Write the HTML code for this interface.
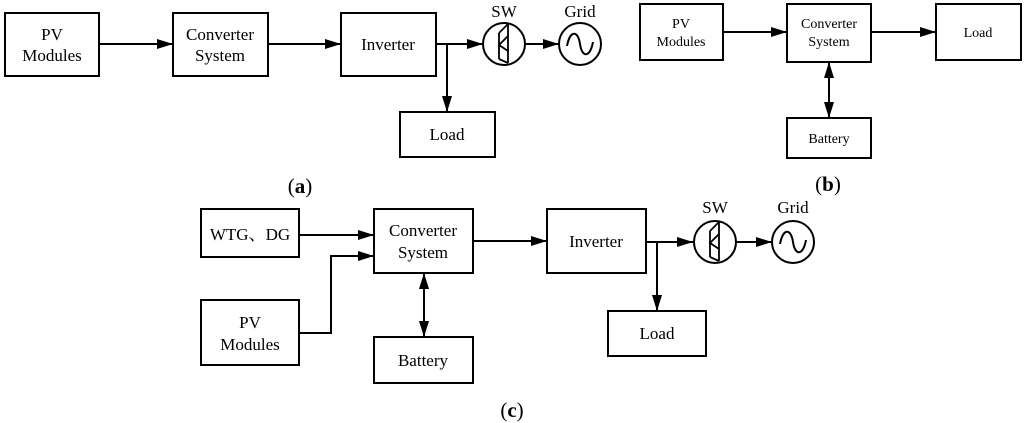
<!DOCTYPE html>
<html><head><meta charset="utf-8"><style>
html,body{margin:0;padding:0;background:#fff;}
svg{display:block;}
text{font-family:"Liberation Serif","Noto Serif CJK SC",serif;fill:#000;}
</style></head><body>
<svg width="1024" height="423" viewBox="0 0 1024 423" xmlns="http://www.w3.org/2000/svg">
<defs>
<marker id="ah" markerWidth="16" markerHeight="10" refX="16" refY="5" orient="auto" markerUnits="userSpaceOnUse">
<path d="M0,0 L16,5 L0,10 z" fill="#000"/></marker>
<marker id="as" markerWidth="16" markerHeight="10" refX="0" refY="5" orient="auto" markerUnits="userSpaceOnUse">
<path d="M16,0 L0,5 L16,10 z" fill="#000"/></marker>
</defs>
<g fill="none" stroke="#000" stroke-width="2">
<!-- (a) -->
<rect x="5" y="13" width="94" height="63"/>
<rect x="173" y="13" width="95" height="63"/>
<rect x="341" y="13" width="95" height="63"/>
<rect x="400" y="112" width="95" height="45"/>
<line x1="99" y1="44" x2="173" y2="44" marker-end="url(#ah)"/>
<line x1="268" y1="44" x2="341" y2="44" marker-end="url(#ah)"/>
<line x1="436" y1="44" x2="483" y2="44" marker-end="url(#ah)"/>
<line x1="447" y1="44" x2="447" y2="112" marker-end="url(#ah)"/>
<circle cx="504" cy="44" r="21"/>
<line x1="525" y1="44" x2="559" y2="44" marker-end="url(#ah)"/>
<circle cx="580" cy="44" r="21"/>
<path d="M567,46 C570,30 578,30 580,44 C582,58 590,58 593,42"/>
<path d="M508,24 L508,63 M499,33 L499,59 M499,33 L508,24 M508,36 L499,45 L508,51 M499,59 L508,63" stroke-width="1.8"/>
<!-- (b) -->
<rect x="640" y="4" width="83" height="56"/>
<rect x="787" y="4" width="84" height="58"/>
<rect x="936" y="4" width="85" height="56"/>
<rect x="787" y="118" width="84" height="40"/>
<line x1="723" y1="32" x2="787" y2="32" marker-end="url(#ah)"/>
<line x1="871" y1="32" x2="936" y2="32" marker-end="url(#ah)"/>
<line x1="829" y1="62" x2="829" y2="118" marker-start="url(#as)" marker-end="url(#ah)"/>
<!-- (c) -->
<rect x="201" y="209" width="98" height="48"/>
<rect x="201" y="300" width="98" height="65"/>
<rect x="374" y="209" width="99" height="64"/>
<rect x="547" y="209" width="99" height="64"/>
<rect x="374" y="337" width="99" height="46"/>
<rect x="608" y="311" width="98" height="45"/>
<line x1="299" y1="235" x2="374" y2="235" marker-end="url(#ah)"/>
<polyline points="299,333 331,333 331,256 374,256" marker-end="url(#ah)"/>
<line x1="473" y1="241" x2="547" y2="241" marker-end="url(#ah)"/>
<line x1="424" y1="273" x2="424" y2="337" marker-start="url(#as)" marker-end="url(#ah)"/>
<line x1="646" y1="242" x2="693" y2="242" marker-end="url(#ah)"/>
<line x1="657" y1="242" x2="657" y2="311" marker-end="url(#ah)"/>
<circle cx="715" cy="242" r="21"/>
<line x1="736" y1="242" x2="772" y2="242" marker-end="url(#ah)"/>
<circle cx="793" cy="242" r="21"/>
<path d="M780,244 C783,228 791,228 793,242 C795,256 803,256 806,240"/>
<path d="M719,222 L719,261 M710,231 L710,257 M710,231 L719,222 M719,234 L710,243 L719,249 M710,257 L719,261" stroke-width="1.8"/>
</g>
<g font-size="17" text-anchor="middle">
<text x="52" y="40">PV</text><text x="52" y="61">Modules</text>
<text x="220" y="40">Converter</text><text x="220" y="61">System</text>
<text x="388" y="50">Inverter</text>
<text x="447" y="140">Load</text>
<text x="504" y="17">SW</text><text x="580" y="17">Grid</text>
<text x="300" y="193" font-size="21"><tspan>(</tspan><tspan font-weight="bold">a</tspan><tspan>)</tspan></text>
</g>
<g font-size="14" text-anchor="middle">
<text x="681" y="28">PV</text><text x="681" y="46">Modules</text>
<text x="829" y="28">Converter</text><text x="829" y="46">System</text>
<text x="978" y="37">Load</text>
<text x="829" y="143">Battery</text>
</g>
<text x="828" y="191" font-size="21" text-anchor="middle"><tspan>(</tspan><tspan font-weight="bold">b</tspan><tspan>)</tspan></text>
<g font-size="17" text-anchor="middle">
<text x="250" y="240">WTG、DG</text>
<text x="250" y="328">PV</text><text x="250" y="350">Modules</text>
<text x="423" y="236">Converter</text><text x="423" y="258">System</text>
<text x="596" y="247">Inverter</text>
<text x="423" y="366">Battery</text>
<text x="657" y="339">Load</text>
<text x="715" y="213">SW</text><text x="793" y="213">Grid</text>
<text x="512" y="417" font-size="21"><tspan>(</tspan><tspan font-weight="bold">c</tspan><tspan>)</tspan></text>
</g>
</svg>
</body></html>
